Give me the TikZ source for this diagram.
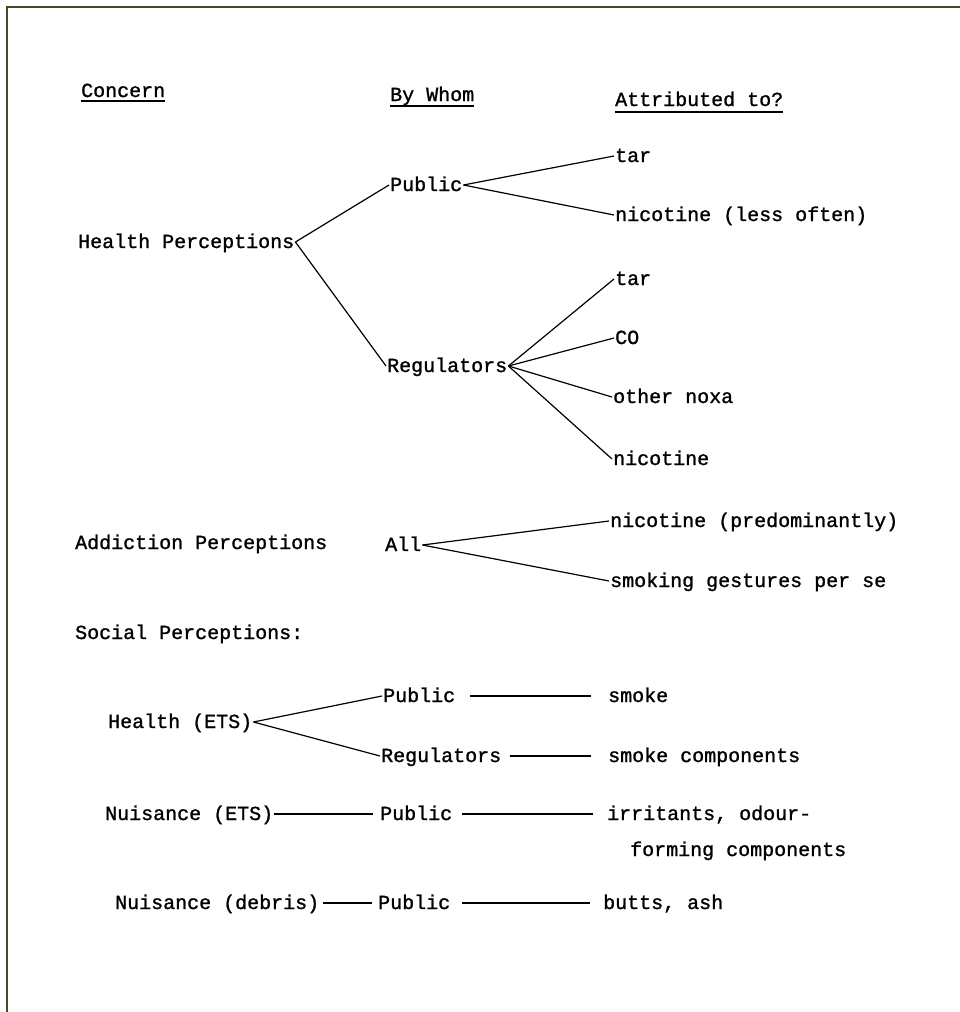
\documentclass[tikz,border=0pt]{standalone}
\usepackage{fontspec}
\newfontfamily\tw[FakeBold=1.2]{Liberation Mono}
\usetikzlibrary{calc}
\definecolor{framecol}{RGB}{72,72,40}
\tikzset{
  lbl/.style={anchor=base west, inner sep=1pt, text height=12pt, text depth=0pt,
              font=\tw\fontsize{20}{24}\selectfont},
  conn/.style={draw=black, line width=1.2pt},
  uline/.style={draw=black, line width=1.4pt},
}
\begin{document}
\begin{tikzpicture}[x=1pt,y=-1pt]
\useasboundingbox (0,0) rectangle (960,1012);
\draw[framecol, line width=2.5pt] (7,1012) -- (7,7) -- (960,7);

% headers
\node[lbl] (hc) at (80,97) {Concern};
\node[lbl] (hb) at (389,101) {By Whom};
\node[lbl] (ha) at (614,106) {Attributed to?};
\draw[uline] ($(hc.base west)+(1,4)$) -- ($(hc.base east)+(-1,4)$);
\draw[uline] ($(hb.base west)+(1,5)$) -- ($(hb.base east)+(-1,5)$);
\draw[uline] ($(ha.base west)+(1,6)$) -- ($(ha.base east)+(-1,6)$);

% health perceptions
\node[lbl] (hp) at (77,248) {Health Perceptions};
\node[lbl] (pub1) at (389,191) {Public};
\node[lbl] (tar1) at (614,162) {tar};
\node[lbl] (nic1) at (614,221) {nicotine (less often)};
\node[lbl] (reg1) at (386,372) {Regulators};
\node[lbl] (tar2) at (614,285) {tar};
\node[lbl] (co) at (614,344) {CO};
\node[lbl] (noxa) at (612,403) {other noxa};
\node[lbl] (nic2) at (612,465) {nicotine};

\draw[conn] (hp.east) -- (pub1.west);
\draw[conn] (hp.east) -- (reg1.west);
\draw[conn] (pub1.east) -- (tar1.west);
\draw[conn] (pub1.east) -- (nic1.west);
\draw[conn] (reg1.east) -- (tar2.west);
\draw[conn] (reg1.east) -- (co.west);
\draw[conn] (reg1.east) -- (noxa.west);
\draw[conn] (reg1.east) -- (nic2.west);

% addiction
\node[lbl] (ap) at (74,549) {Addiction Perceptions};
\node[lbl] (all) at (384,551) {All};
\node[lbl] (nicp) at (609,527) {nicotine (predominantly)};
\node[lbl] (smg) at (609,587) {smoking gestures per se};
\draw[conn] (all.east) -- (nicp.west);
\draw[conn] (all.east) -- (smg.west);

% social
\node[lbl] (sp) at (74,639) {Social Perceptions:};
\node[lbl] (hets) at (107,728) {Health (ETS)};
\node[lbl] (pub2) at (382,702) {Public};
\node[lbl] (smoke) at (607,702) {smoke};
\node[lbl] (reg2) at (380,762) {Regulators};
\node[lbl] (smc) at (607,762) {smoke components};
\draw[conn] (hets.east) -- (pub2.west);
\draw[conn] (hets.east) -- (reg2.west);
\draw[conn, shorten <=14pt, shorten >=16pt] (pub2.east) -- (smoke.west);
\draw[conn, shorten <=8pt, shorten >=16pt] (reg2.east) -- (smc.west);

\node[lbl] (nets) at (104,820) {Nuisance (ETS)};
\node[lbl] (pub3) at (379,820) {Public};
\node[lbl] (irr) at (606,820) {irritants, odour-};
\node[lbl] (frm) at (629,856) {forming components};
\draw[conn, shorten >=6pt] (nets.east) -- (pub3.west);
\draw[conn, shorten <=9pt, shorten >=13pt] (pub3.east) -- (irr.west);

\node[lbl] (ndeb) at (114,909) {Nuisance (debris)};
\node[lbl] (pub4) at (377,909) {Public};
\node[lbl] (butts) at (602,909) {butts, ash};
\draw[conn, shorten <=3pt, shorten >=5pt] (ndeb.east) -- (pub4.west);
\draw[conn, shorten <=11pt, shorten >=12pt] (pub4.east) -- (butts.west);
\end{tikzpicture}
\end{document}
